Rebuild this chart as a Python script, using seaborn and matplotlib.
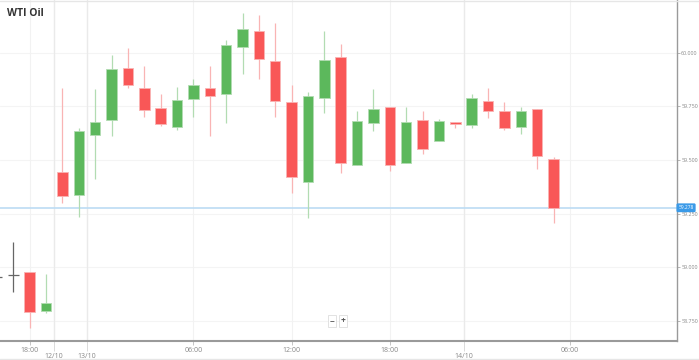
import numpy as np
import pandas as pd
import matplotlib
matplotlib.use('Agg')
import matplotlib.pyplot as plt
import seaborn as sns

# ── DATA (hourly candles) ────────────────────────────────────
idx = list(range(-1, 34))
opens = [58.956, 58.967, 58.978, 58.799, 59.446, 59.338, 59.617, 59.687,
         59.930, 59.834, 59.744, 59.656, 59.783, 59.834, 59.806, 60.028,
         60.102, 59.960, 59.769, 59.398, 59.788, 59.979, 59.476, 59.671,
         59.747, 59.488, 59.688, 59.588, 59.679, 59.663, 59.777, 59.730,
         59.656, 59.738, 59.507]
highs = [58.998, 59.119, 58.978, 58.970, 59.836, 59.649, 59.831, 59.989,
         60.021, 59.938, 59.808, 59.839, 59.878, 59.938, 60.058, 60.183,
         60.176, 60.140, 59.848, 59.818, 60.102, 60.041, 59.730, 59.830,
         59.747, 59.746, 59.729, 59.690, 59.679, 59.808, 59.834, 59.769,
         59.746, 59.738, 59.516]
lows = [58.914, 58.887, 58.718, 58.788, 59.300, 59.237, 59.412, 59.614,
        59.834, 59.699, 59.659, 59.640, 59.699, 59.614, 59.671, 59.901,
        59.879, 59.699, 59.348, 59.229, 59.718, 59.439, 59.476, 59.637,
        59.449, 59.488, 59.528, 59.588, 59.651, 59.651, 59.695, 59.640,
        59.622, 59.460, 59.209]
closes = [58.956, 58.967, 58.794, 58.836, 59.334, 59.637, 59.679, 59.923,
          59.848, 59.733, 59.668, 59.780, 59.848, 59.798, 60.035, 60.110,
          59.969, 59.774, 59.423, 59.798, 59.967, 59.488, 59.683, 59.738,
          59.476, 59.679, 59.552, 59.683, 59.668, 59.788, 59.729, 59.648,
          59.727, 59.519, 59.278]

hour_pos = [1, 11, 17, 23, 34]
hour_labels = ['18:00', '06:00', '12:00', '18:00', '06:00']
day_pos = [2.5, 4.5, 27.5]
day_labels = ['12/10', '13/10', '14/10']
y_ticks = [58.75, 59.0, 59.25, 59.5, 59.75, 60.0]
last_price = 59.278

df = pd.DataFrame({'i': idx, 'open': opens, 'high': highs,
                   'low': lows, 'close': closes})

sns.set_theme(style="white")
plt.rcParams['font.family'] = ['Open Sans', 'DejaVu Sans']

RED, RED_W = '#f95757', '#f9b4b4'
GREEN, GREEN_W = '#5cb85c', '#b2dcb2'
DOJI = '#666666'

fig = plt.figure(figsize=(6.99, 3.6), dpi=100)
ax = fig.add_axes([0, 19 / 360, 677 / 699, 341 / 360])

# grid
for y in y_ticks:
    ax.axhline(y, color='#f4f4f4', lw=0.8, zorder=0)
for x in hour_pos:
    ax.axvline(x, color='#f2f2f2', lw=0.8, zorder=0)
for x in day_pos:
    ax.axvline(x, color='#eaeaea', lw=1.0, zorder=0)

# candles
w = 0.64
for _, r in df.iterrows():
    if r['open'] == r['close']:
        ax.vlines(r['i'], r['low'], r['high'], color=DOJI, lw=0.9, zorder=2)
        ax.hlines(r['close'], r['i'] - w / 2, r['i'] + w / 2,
                  color=DOJI, lw=0.9, zorder=2)
        continue
    up = r['close'] > r['open']
    body, wick = (GREEN, GREEN_W) if up else (RED, RED_W)
    ax.vlines(r['i'], r['low'], r['high'], color=wick, lw=0.9, zorder=2)
    lo, hi = sorted([r['open'], r['close']])
    ax.bar(r['i'], hi - lo, bottom=lo, width=w, color=body,
           edgecolor=wick, linewidth=0.6, zorder=3)

# current price line
ax.axhline(last_price, color='#bcdcf4', lw=1.2, zorder=1)

ax.set_xlim(-0.8125, 40.54)
ax.set_ylim(58.6578, 60.2453)

# axes styling
for s in ['top', 'left']:
    ax.spines[s].set_visible(False)
ax.spines['right'].set_color('#9a9a9a')
ax.spines['right'].set_linewidth(1.0)
ax.spines['bottom'].set_color('#9a9a9a')
ax.spines['bottom'].set_linewidth(1.5)

ax.yaxis.tick_right()
ax.set_yticks(y_ticks)
ax.set_yticklabels([f'{v:.3f}' for v in y_ticks])
ax.tick_params(axis='y', which='major', right=True, length=2, width=0.6,
               color='#aaaaaa', labelsize=3.9, labelcolor='#888888', pad=1)

ax.set_xticks(hour_pos)
ax.set_xticklabels(hour_labels)
ax.set_xticks(day_pos, minor=True)
ax.set_xticklabels(day_labels, minor=True)
ax.tick_params(axis='x', which='major', bottom=True, length=3, width=0.6,
               color='#bbbbbb', labelsize=5, labelcolor='#888888', pad=1.5)
ax.tick_params(axis='x', which='minor', bottom=True, length=7, width=0.6,
               color='#d5d5d5', labelsize=5, labelcolor='#888888', pad=1.5)

# last price tag on the axis
ax.text(1.002, last_price, f'{last_price:.3f}', transform=ax.get_yaxis_transform(),
        ha='left', va='center', fontsize=3.5, color='white', clip_on=False,
        bbox=dict(boxstyle='round,pad=0.25,rounding_size=0.15',
                  fc='#3a9ae8', ec='#3a9ae8'))

# zoom buttons
for xpos, lab in [(332, '−'), (343, '+')]:
    fig.text(xpos / 699, 1 - 321 / 360, lab, ha='center', va='center',
             fontsize=6, fontweight='bold', color='#555555',
             bbox=dict(boxstyle='square,pad=0.2', fc='white', ec='#dddddd', lw=0.6))

# title
fig.text(7 / 699, 1 - 13 / 360, 'WTI Oil', ha='left', va='center',
         fontsize=7.5, fontweight='bold', color='#333333')

# frame lines
fig.add_artist(plt.Line2D([0, 1], [0.998, 0.998], color='#e6e6e6', lw=1.0))
fig.add_artist(plt.Line2D([0, 1], [1 / 360, 1 / 360], color='#e6e6e6', lw=1.0))

plt.savefig('out.png', dpi=100)
plt.close()
